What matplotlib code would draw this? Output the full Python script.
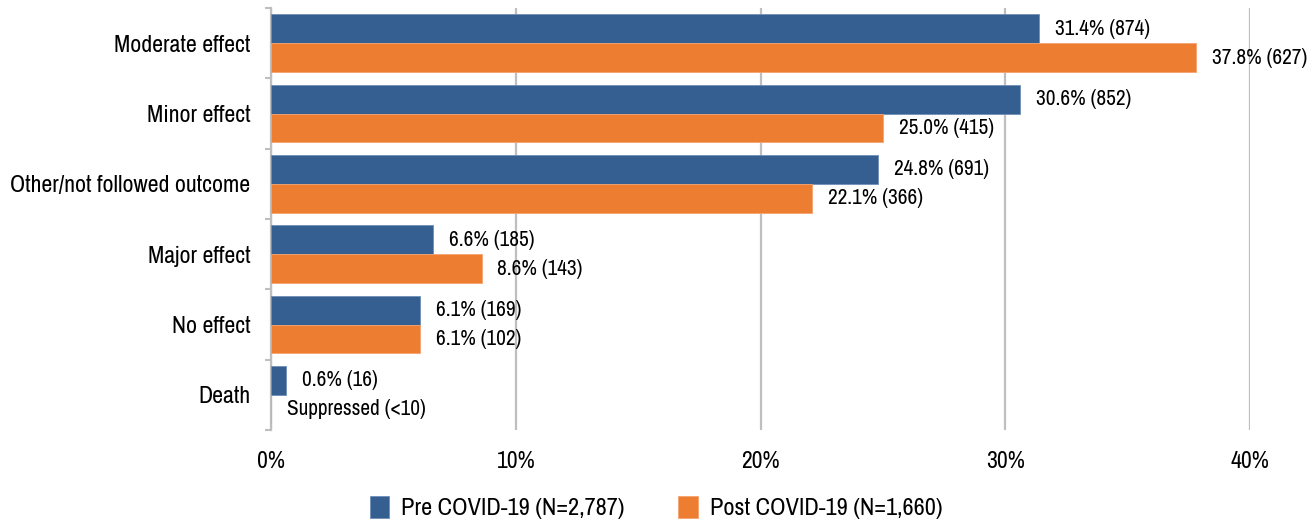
import matplotlib.pyplot as plt
import numpy as np

plt.rcParams['font.family'] = ['Liberation Sans Narrow', 'Arial Narrow', 'Archivo Narrow',
                               'Roboto Condensed', 'DejaVu Sans']

# ------------------ DATA ------------------
categories = ['Moderate effect', 'Minor effect', 'Other/not followed outcome',
              'Major effect', 'No effect', 'Death']
pre_pct = [31.4, 30.6, 24.8, 6.6, 6.1, 0.6]
pre_n = [874, 852, 691, 185, 169, 16]
post_pct = [37.8, 25.0, 22.1, 8.6, 6.1, 0.0]
post_n = [627, 415, 366, 143, 102, None]   # None -> suppressed count

pre_label = 'Pre COVID-19 (N=2,787)'
post_label = 'Post COVID-19 (N=1,660)'

BLUE = '#365F91'
ORANGE = '#ED7D31'
GRID = '#BFBFBF'

# ------------------ PLOT ------------------
fig = plt.figure(figsize=(13.12, 5.23), dpi=100)
ax = fig.add_axes([0.2066, 0.1778, 0.7461, 0.8069])

y = np.arange(len(categories))
h = 0.41
b1 = ax.barh(y - h / 2, pre_pct, height=h, color=BLUE, edgecolor='#6F8FB8',
             linewidth=0.6, label=pre_label, zorder=3)
b2 = ax.barh(y + h / 2, post_pct, height=h, color=ORANGE, edgecolor='#F4A36E',
             linewidth=0.6, label=post_label, zorder=3)

# value labels: "pct% (n)"
for yy, p, n in zip(y, pre_pct, pre_n):
    ax.annotate(f'{p:.1f}% ({n})', (p, yy - h / 2), xytext=(11.5, 0),
                textcoords='offset points', va='center', ha='left', fontsize=15.3)
for yy, p, n in zip(y, post_pct, post_n):
    txt = 'Suppressed (<10)' if n is None else f'{p:.1f}% ({n})'
    ax.annotate(txt, (p, yy + h / 2), xytext=(11.5, 0),
                textcoords='offset points', va='center', ha='left', fontsize=15.3)

ax.set_xlim(0, 40)
ax.set_ylim(len(categories) - 0.5, -0.5)
ax.set_xticks([0, 10, 20, 30, 40])
ax.set_xticklabels(['0%', '10%', '20%', '30%', '40%'], fontsize=17)
ax.tick_params(axis='x', length=0, pad=15)

ax.set_yticks(y)
ax.set_yticklabels(categories, fontsize=17.2)
ax.set_yticks(np.arange(len(categories) + 1) - 0.5, minor=True)
ax.tick_params(axis='y', which='major', length=0, pad=15)
ax.tick_params(axis='y', which='minor', length=4.5, width=1.5, color=GRID)

ax.xaxis.grid(True, color=GRID, linewidth=1.6, zorder=0)
for s in ['top', 'right', 'bottom']:
    ax.spines[s].set_visible(False)
ax.spines['left'].set_color(GRID)
ax.spines['left'].set_linewidth(1.6)

fig.legend(handles=[b1, b2], loc='lower center', bbox_to_anchor=(0.5, -0.035),
           ncol=2, frameon=False, fontsize=17.5, handlelength=0.8,
           handleheight=1.0, handletextpad=0.5, columnspacing=2.2)

fig.savefig('out.png', dpi=100)
